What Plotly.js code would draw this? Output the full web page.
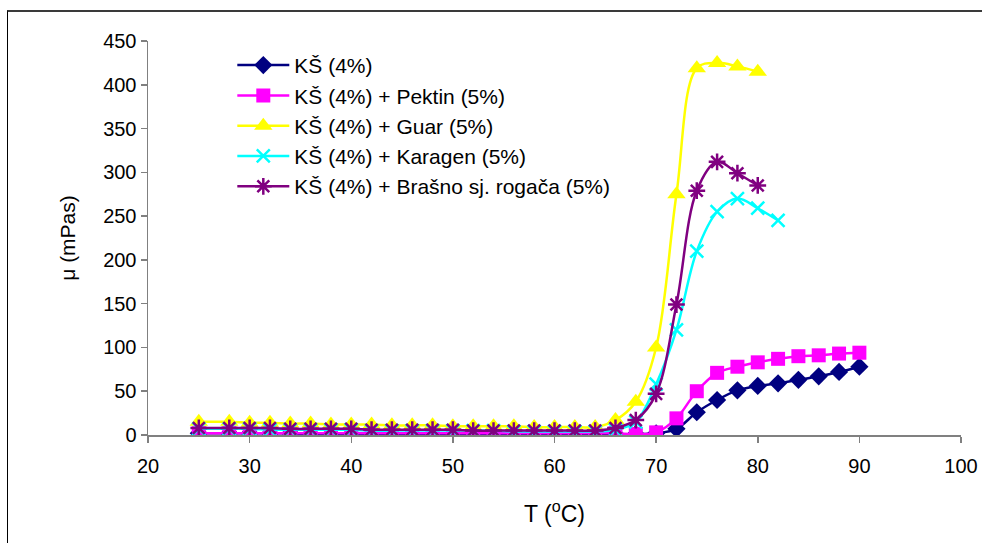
<!DOCTYPE html>
<html>
<head>
<meta charset="utf-8">
<script src="https://cdn.plot.ly/plotly-3.0.1.min.js"></script>
<style>
  html, body { margin: 0; padding: 0; background: #fff; }
  #wrap { position: relative; width: 982px; height: 543px; overflow: hidden; }
  #chart { position: absolute; left: 0; top: 0; width: 982px; height: 543px; }
  #frame { position: absolute; left: 7px; top: 10px; width: 1000px; height: 600px;
           border-top: 2px solid #3a3a3a; border-left: 1px solid #000; pointer-events: none; }
</style>
</head>
<body>
<div id="wrap">
  <div id="chart"></div>
  <div id="frame"></div>
</div>
<script>
// Temperature (°C)
const xPlateau = [25,28,30,32,34,36,38,40,42,44,46,48,50,52,54,56,58,60,62,64];
const xFull = xPlateau.concat([66,68,70,72,74,76,78,80,82,84,86,88,90]);
const xTo80 = xPlateau.concat([66,68,70,72,74,76,78,80]);
const xTo82 = xPlateau.concat([66,68,70,72,74,76,78,80,82]);

// Viscosity (mPas)
const ks = [2,2,2,2,2,1,1,1,1,1,1,1,1,1,1,1,1,1,1,1, 1,1,2,7,26,40,51,56,59,63,67,72,78];
const ksPektin = [2,2,2,2,2,2,2,2,2,2,2,2,2,2,2,2,2,2,2,2, 2,1,3,19,50,71,78,83,87,90,91,93,94];
const ksGuar = [15,15,14,14,13,13,12,12,12,11,11,11,10,10,10,10,9,9,9,9, 17,38,100,275,419,425,421,415];
const ksKaragen = [7,7,7,6,6,6,6,6,5,5,5,5,5,5,5,4,4,4,4,4, 6,15,58,120,210,255,270,259,245];
const ksRogac = [8,8,8,8,7,7,7,7,6,6,6,6,6,5,5,5,5,5,5,5, 8,17,47,149,279,312,299,285];

const names = ['KŠ (4%)','KŠ (4%) + Pektin (5%)','KŠ (4%) + Guar (5%)','KŠ (4%) + Karagen (5%)','KŠ (4%) + Brašno sj. rogača (5%)'];
const xTicks = [20,30,40,50,60,70,80,90,100];
const yTicks = [0,50,100,150,200,250,300,350,400,450];

function tr(x, y, name, color, symbol, size, open) {
  return {
    x: x, y: y, name: name, type: 'scatter', mode: 'lines+markers',
    line: {color: color, width: 2.5, shape: 'spline', smoothing: 1},
    marker: open ? {symbol: symbol, size: size, color: color, line: {color: color, width: 2.5}}
                 : {symbol: symbol, size: size, color: color, line: {width: 0}},
    hoverinfo: 'skip'
  };
}

const data = [
  tr(xFull, ks, names[0], '#000080', 'diamond', 14, false),
  tr(xFull, ksPektin, names[1], '#FF00FF', 'square', 14, false),
  tr(xTo80, ksGuar, names[2], '#FFFF00', 'triangle-up', 16, false),
  tr(xTo82, ksKaragen, names[3], '#00FFFF', 'x-thin-open', 13, true),
  tr(xTo80, ksRogac, names[4], '#800080', 'asterisk-open', 14, true)
];

const fam = 'Liberation Sans, Arial, sans-serif';
const tickFont = {family: fam, size: 20, color: '#000'};
const legFont = {family: fam, size: 21, color: '#000'};

const layout = {
  width: 982, height: 543,
  margin: {l: 148, r: 21, t: 41, b: 108},
  paper_bgcolor: '#fff', plot_bgcolor: '#fff',
  font: tickFont,
  showlegend: true,
  legend: {x: 0.1037, y: 0.99, xanchor: 'left', yanchor: 'top', bgcolor: 'rgba(0,0,0,0)',
           font: legFont, traceorder: 'normal', itemwidth: 52},
  xaxis: {
    range: [20, 100], tickvals: xTicks, ticktext: xTicks.map(String),
    showgrid: false, zeroline: false, showline: true, linecolor: '#808080', linewidth: 1.5,
    ticks: 'outside', ticklen: 6, tickcolor: '#808080', tickwidth: 1.5,
    tickfont: tickFont, ticklabelstandoff: 6,
    title: {text: 'T (<sup>o</sup>C)', font: {family: fam, size: 23, color: '#000'}, standoff: 30}
  },
  yaxis: {
    range: [0, 450], tickvals: yTicks, ticktext: yTicks.map(String),
    showgrid: false, zeroline: false, showline: true, linecolor: '#808080', linewidth: 1.5,
    ticks: 'outside', ticklen: 6, tickcolor: '#808080', tickwidth: 1.5,
    tickfont: tickFont,
    title: {text: 'μ (mPas)', font: {family: fam, size: 21, color: '#000'}, standoff: 22}
  }
};

Plotly.newPlot('chart', data, layout, {staticPlot: true, displayModeBar: false});
</script>
</body>
</html>
